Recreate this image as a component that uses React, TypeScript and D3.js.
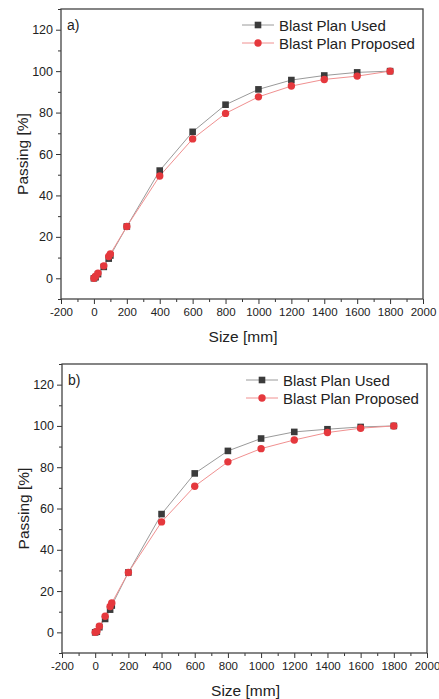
import React, { useEffect, useRef } from "react";
import * as d3 from "d3";

// sieve sizes in mm, shared by both panels
const sizes = [0, 10, 25, 60, 90, 100, 200, 400, 600, 800, 1000, 1200, 1400, 1600, 1800];

// panel a
const usedA = [0, 0.5, 2, 5.5, 9.5, 11, 25, 52, 70.7, 83.8, 91.2, 95.7, 97.9, 99.4, 100];
const proposedA = [0, 1, 2.5, 6, 10.5, 11.8, 25, 49.4, 67.3, 79.6, 87.6, 92.8, 96, 97.6, 100];

// panel b
const usedB = [0, 0.3, 2.5, 6.5, 11, 13, 29, 57.3, 77, 87.9, 93.9, 97.1, 98.4, 99.5, 100];
const proposedB = [0, 0.5, 3, 7.8, 12.5, 14.2, 29, 53.5, 70.8, 82.6, 89, 93.2, 96.8, 98.9, 100];

const seriesNames = ["Blast Plan Used", "Blast Plan Proposed"];
const xTicks = [-200, 0, 200, 400, 600, 800, 1000, 1200, 1400, 1600, 1800, 2000];
const yTicks = [0, 20, 40, 60, 80, 100, 120];

const FONT = "'Liberation Sans', Arial, sans-serif";

type PanelProps = {
  label: string;
  used: number[];
  proposed: number[];
  top: number;
  left: number;
  right: number;
  bottom: number;
};

function Panel(props: PanelProps) {
  const ref = useRef<SVGGElement>(null);

  useEffect(() => {
    const { label, used, proposed, top, left, right, bottom } = props;
    const g = d3.select(ref.current);
    g.selectAll("*").remove();

    const x = d3.scaleLinear().domain([-200, 2000]).range([left, right]);
    const y = d3.scaleLinear().domain([-10, 130]).range([bottom, top]);

    // minor ticks
    const xMinor = d3.range(-100, 2000, 200);
    const yMinor = d3.range(-10, 131, 20);

    g.append("g")
      .attr("transform", `translate(0,${bottom})`)
      .call(d3.axisBottom(x).tickValues(xMinor).tickSize(3).tickFormat(() => ""))
      .call(s => s.select(".domain").remove())
      .selectAll("line").attr("stroke", "#333");

    g.append("g")
      .attr("transform", `translate(${left},0)`)
      .call(d3.axisLeft(y).tickValues(yMinor).tickSize(3).tickFormat(() => ""))
      .call(s => s.select(".domain").remove())
      .selectAll("line").attr("stroke", "#333");

    // major ticks with labels (plain hyphen for negatives, like the original)
    const xa = g.append("g")
      .attr("transform", `translate(0,${bottom})`)
      .call(d3.axisBottom(x).tickValues(xTicks).tickSize(5).tickPadding(4).tickFormat(d => String(d)));
    xa.select(".domain").remove();
    xa.selectAll("line").attr("stroke", "#333");
    xa.selectAll("text").attr("font-size", 11.5).attr("font-family", FONT).attr("fill", "#222");

    const ya = g.append("g")
      .attr("transform", `translate(${left},0)`)
      .call(d3.axisLeft(y).tickValues(yTicks).tickSize(5).tickPadding(3).tickFormat(d => String(d)));
    ya.select(".domain").remove();
    ya.selectAll("line").attr("stroke", "#333");
    ya.selectAll("text").attr("font-size", 12.5).attr("font-family", FONT).attr("fill", "#222");

    // frame
    g.append("rect")
      .attr("x", left).attr("y", top)
      .attr("width", right - left).attr("height", bottom - top)
      .attr("fill", "none").attr("stroke", "#444").attr("stroke-width", 1.3);

    const line = d3.line<number>()
      .x((_, i) => x(sizes[i]))
      .y(d => y(d));

    g.append("path").datum(used)
      .attr("d", line).attr("fill", "none").attr("stroke", "#9a9a9a").attr("stroke-width", 1);
    g.append("path").datum(proposed)
      .attr("d", line).attr("fill", "none").attr("stroke", "#f09090").attr("stroke-width", 1);

    g.selectAll(".sq").data(used).enter().append("rect")
      .attr("x", (_, i) => x(sizes[i]) - 3.3)
      .attr("y", d => y(d) - 3.3)
      .attr("width", 6.6).attr("height", 6.6)
      .attr("fill", "#3b3b3b");

    g.selectAll(".dot").data(proposed).enter().append("circle")
      .attr("cx", (_, i) => x(sizes[i]))
      .attr("cy", d => y(d))
      .attr("r", 3.7)
      .attr("fill", "#e5383d");

    // panel label
    g.append("text")
      .attr("x", left + 6).attr("y", top + 21)
      .attr("font-size", 14).attr("font-family", FONT).attr("fill", "#222")
      .text(label);

    // legend
    const lx = right - 181;
    const ly = [top + 16, top + 34];
    const legendColors = [["#9a9a9a", "#3b3b3b"], ["#f09090", "#e5383d"]];
    seriesNames.forEach((name, i) => {
      g.append("line")
        .attr("x1", lx).attr("x2", lx + 32)
        .attr("y1", ly[i]).attr("y2", ly[i])
        .attr("stroke", legendColors[i][0]).attr("stroke-width", 1);
      if (i === 0) {
        g.append("rect")
          .attr("x", lx + 16 - 3.3).attr("y", ly[i] - 3.3)
          .attr("width", 6.6).attr("height", 6.6)
          .attr("fill", legendColors[i][1]);
      } else {
        g.append("circle")
          .attr("cx", lx + 16).attr("cy", ly[i]).attr("r", 3.7)
          .attr("fill", legendColors[i][1]);
      }
      g.append("text")
        .attr("x", lx + 37).attr("y", ly[i] + 5.5)
        .attr("font-size", 15).attr("font-family", FONT).attr("fill", "#222")
        .text(name);
    });

    // axis titles
    g.append("text")
      .attr("x", (left + right) / 2 + 1).attr("y", bottom + 42.5)
      .attr("text-anchor", "middle")
      .attr("font-size", 15.5).attr("font-family", FONT).attr("fill", "#222")
      .text("Size [mm]");

    g.append("text")
      .attr("transform", `translate(${left - 33},${(top + bottom) / 2}) rotate(-90)`)
      .attr("text-anchor", "middle")
      .attr("font-size", 15.5).attr("font-family", FONT).attr("fill", "#222")
      .text("Passing [%]");
  }, [props]);

  return <g ref={ref} />;
}

export default function App() {
  return (
    <svg
      width={439}
      height={699}
      style={{ position: "absolute", left: 0, top: 0, background: "#fff" }}
    >
      <Panel label="a)" used={usedA} proposed={proposedA} top={9} left={61} right={423} bottom={299} />
      <Panel label="b)" used={usedB} proposed={proposedB} top={364} left={62} right={427} bottom={653} />
    </svg>
  );
}
